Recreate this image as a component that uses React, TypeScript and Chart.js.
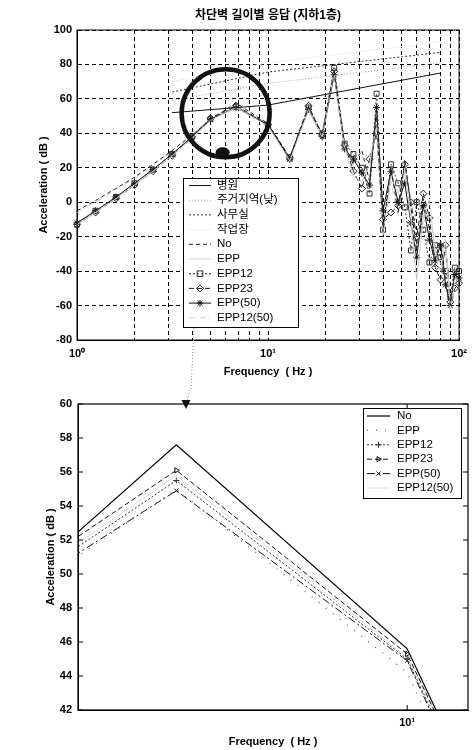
import React, { useEffect, useRef } from 'react';
import { Chart, registerables } from 'chart.js';

Chart.register(...registerables);

// ---------------- data ----------------
const TITLE = '차단벽 길이별 응답 (지하1층)';
const X_TITLE = 'Frequency  ( Hz )';
const Y_TITLE = 'Acceleration ( dB )';

const FREQ_HZ = [1, 1.25, 1.6, 2, 2.5, 3.15, 4, 5, 6.8, 10, 13, 16.3, 19.2, 22.2, 25.2, 28, 31, 34, 37, 40, 44, 48, 52, 56, 60, 65, 70, 75, 80, 85, 90, 95, 100];

const NO_DB = [-5, 1, 8, 14.5, 22, 30, 39, 48.0, 57.6, 45.6, 26, 55, 39, 76, 33, 22, 30, 12, 50, -17, 20, -6, 25, -3, -28, 2, -16, -33, -22, -45, -60, -40, -42];
const EPP_DB = [-13, -6, 2, 10, 18, 27, 37, 47.6, 55.0, 44.2, 24, 54, 38, 75, 32, 15, 12, 22, 45, -19, 15, 5, 18, -10, -45, -9, 2, -30, -40, -22, -62, -45, -45];
const EPP12_DB = [-13, -5, 3, 11, 19, 28, 38, 48.2, 55.5, 45.0, 25.5, 55, 40, 78, 34, 28, 20, 5, 63, -16, 22, 11, -3, -28, 0, -16, -35, -25, -32, -40, -55, -38, -40];
const EPP23_DB = [-13, -6, 2, 10, 18, 27, 38, 48.8, 56.1, 45.3, 26, 56, 39, 76, 33, 18, 8, 25, 40, -10, -6, -2, 22, 0, -20, 5, -9, -38, -45, -25, -58, -50, -47];
const EPP50_DB = [-12, -5, 3, 11, 19, 28, 38, 48.0, 54.9, 44.9, 25, 54, 38, 74, 31, 25, 17, 10, 55, -5, 18, 0, 11, -12, -32, -2, -22, -34, -25, -48, -60, -42, -44];
const EPP12_50_DB = [-6, 0, 7, 14, 21, 30, 39, 48.3, 55.8, 45.1, 26.5, 55, 40, 76, 33, 20, 24, 15, 48, -18, 12, -8, 20, -5, -25, -12, -5, -28, -36, -30, -57, -46, -43];

const CRIT_HZ = [3.15, 10, 80];
const HOSPITAL_DB = [52, 56.4, 75];
const RESIDENTIAL_DB = [59, 69, 81];
const OFFICE_DB = [64, 75.6, 87];
const WORKSHOP_DB = [70, 81, 93];

const TOP_X_TICKS = [1, 2, 3, 4, 5, 6, 7, 8, 9, 10, 20, 30, 40, 50, 60, 70, 80, 90, 100];
const TOP_X_LABELS = ['10⁰', '', '', '', '', '', '', '', '', '10¹', '', '', '', '', '', '', '', '', '10²'];
const TOP_Y_TICKS = [-80, -60, -40, -20, 0, 20, 40, 60, 80, 100];

const ZOOM_X_TICKS = [10];
const ZOOM_X_LABELS = ['10¹'];
const ZOOM_Y_TICKS = [42, 44, 46, 48, 50, 52, 54, 56, 58, 60];

// ---------------- styling helpers ----------------
const FONT = "'Liberation Sans', 'Noto Sans CJK KR', Arial, sans-serif";
Chart.defaults.color = '#000';
Chart.defaults.font.family = FONT;

const pts = (xs: number[], ys: number[]) => xs.map((x, i) => ({ x, y: ys[i] }));

function drawMarker(ctx: CanvasRenderingContext2D, style: string, x: number, y: number, r: number, rot = 0) {
  ctx.save();
  ctx.translate(x, y);
  ctx.rotate((rot * Math.PI) / 180);
  ctx.setLineDash([]);
  ctx.beginPath();
  const d = r * 0.707;
  switch (style) {
    case 'circle':
      ctx.arc(0, 0, r, 0, Math.PI * 2);
      break;
    case 'rect':
      ctx.rect(-r * 0.8, -r * 0.8, 1.6 * r, 1.6 * r);
      break;
    case 'rectRot':
      ctx.moveTo(0, -r); ctx.lineTo(r, 0); ctx.lineTo(0, r); ctx.lineTo(-r, 0); ctx.closePath();
      break;
    case 'triangle':
      ctx.moveTo(0, -r); ctx.lineTo(r * 0.87, r * 0.5); ctx.lineTo(-r * 0.87, r * 0.5); ctx.closePath();
      break;
    case 'cross':
      ctx.moveTo(-r, 0); ctx.lineTo(r, 0); ctx.moveTo(0, -r); ctx.lineTo(0, r);
      break;
    case 'crossRot':
      ctx.moveTo(-d, -d); ctx.lineTo(d, d); ctx.moveTo(-d, d); ctx.lineTo(d, -d);
      break;
    case 'star':
      ctx.moveTo(-r, 0); ctx.lineTo(r, 0); ctx.moveTo(0, -r); ctx.lineTo(0, r);
      ctx.moveTo(-d, -d); ctx.lineTo(d, d); ctx.moveTo(-d, d); ctx.lineTo(d, -d);
      break;
    default:
      break;
  }
  ctx.stroke();
  ctx.restore();
}

const framePlugin = {
  id: 'frame',
  afterDatasetsDraw(chart: any, _a: unknown, o: any) {
    const { ctx, chartArea: a } = chart;
    ctx.save();
    ctx.strokeStyle = '#000';
    ctx.lineWidth = o.width ?? 1;
    ctx.setLineDash([]);
    ctx.strokeRect(a.left, a.top, a.right - a.left, a.bottom - a.top);
    const t = o.tickLen ?? 0;
    if (t) {
      ctx.lineWidth = 1;
      ctx.beginPath();
      chart.scales.y.ticks.forEach((tk: any) => {
        const py = chart.scales.y.getPixelForValue(tk.value);
        ctx.moveTo(a.left, py); ctx.lineTo(a.left + t, py);
        ctx.moveTo(a.right, py); ctx.lineTo(a.right - t, py);
      });
      chart.scales.x.ticks.forEach((tk: any) => {
        const px = chart.scales.x.getPixelForValue(tk.value);
        ctx.moveTo(px, a.bottom); ctx.lineTo(px, a.bottom - t);
        ctx.moveTo(px, a.top); ctx.lineTo(px, a.top + t);
      });
      ctx.stroke();
    }
    ctx.restore();
  },
};

const calloutPlugin = {
  id: 'callout',
  afterDraw(chart: any, _a: unknown, o: any) {
    if (!o) return;
    const ctx: CanvasRenderingContext2D = chart.ctx;
    ctx.save();
    if (o.ring) {
      const cx = chart.scales.x.getPixelForValue(o.ring.hz);
      const cy = chart.scales.y.getPixelForValue(o.ring.db);
      ctx.strokeStyle = '#111';
      ctx.lineWidth = o.ring.width;
      ctx.setLineDash([]);
      ctx.beginPath();
      ctx.arc(cx, cy, o.ring.radius, 0, Math.PI * 2);
      ctx.stroke();
      ctx.fillStyle = '#111';
      ctx.beginPath();
      ctx.ellipse(cx + o.ring.dot[0], cy + o.ring.dot[1], o.ring.dot[2], o.ring.dot[3], 0, 0, Math.PI * 2);
      ctx.fill();
    }
    if (o.arrow) {
      ctx.strokeStyle = '#8a8a8a';
      ctx.lineWidth = 1;
      ctx.setLineDash([1, 2]);
      ctx.beginPath();
      ctx.moveTo(o.arrow.from[0], o.arrow.from[1]);
      ctx.lineTo(o.arrow.to[0], o.arrow.to[1]);
      ctx.stroke();
      if (o.arrow.head) {
        const [hx, hy] = o.arrow.to;
        ctx.fillStyle = '#111';
        ctx.beginPath();
        ctx.moveTo(hx - 4.5, hy - 5);
        ctx.lineTo(hx + 4.5, hy - 5);
        ctx.lineTo(hx, hy + 4);
        ctx.closePath();
        ctx.fill();
      }
    }
    ctx.restore();
  },
};

const boxLegendPlugin = {
  id: 'boxLegend',
  afterDraw(chart: any, _a: unknown, o: any) {
    if (!o || !o.box) return;
    const ctx: CanvasRenderingContext2D = chart.ctx;
    const [bx, by, bw, bh] = o.box;
    ctx.save();
    ctx.fillStyle = '#fff';
    ctx.fillRect(bx, by, bw, bh);
    ctx.strokeStyle = '#000';
    ctx.lineWidth = 1;
    ctx.setLineDash([]);
    ctx.strokeRect(bx + 0.5, by + 0.5, bw, bh);
    ctx.font = o.font;
    ctx.textBaseline = 'middle';
    ctx.textAlign = 'left';
    chart.data.datasets.forEach((ds: any, i: number) => {
      const cy = o.firstY + i * o.step;
      ctx.strokeStyle = ds.borderColor;
      ctx.lineWidth = ds.borderWidth ?? 1;
      ctx.setLineDash(ds.borderDash ?? []);
      ctx.beginPath();
      ctx.moveTo(o.sampleX[0], cy);
      ctx.lineTo(o.sampleX[1], cy);
      ctx.stroke();
      if (ds.pointRadius > 0 && ds.pointStyle) {
        ctx.strokeStyle = ds.pointBorderColor ?? ds.borderColor;
        ctx.lineWidth = 1;
        drawMarker(ctx, ds.pointStyle, (o.sampleX[0] + o.sampleX[1]) / 2, cy, ds.pointRadius, ds.pointRotation ?? 0);
      }
      ctx.fillStyle = '#000';
      ctx.fillText(ds.label, o.textX, cy);
    });
    ctx.restore();
  },
};

const tickFont = { family: FONT, size: 11, weight: 'bold' as const };
const titleFont = { family: FONT, size: 11, weight: 'bold' as const };

// ---------------- configs ----------------
function topConfig(): any {
  const series = (label: string, ys: number[], color: string, dash: number[], style: string | false, r: number) => ({
    label,
    data: pts(FREQ_HZ, ys),
    borderColor: color,
    borderWidth: 1,
    borderDash: dash,
    pointStyle: style || 'circle',
    pointRadius: style ? r : 0,
    pointBorderColor: color,
    pointBackgroundColor: 'rgba(255,255,255,0)',
    pointBorderWidth: 1,
    fill: false,
    tension: 0,
    clip: 6,
  });
  const crit = (label: string, ys: number[], color: string, dash: number[]) => ({
    label,
    data: pts(CRIT_HZ, ys),
    borderColor: color,
    borderWidth: 1,
    borderDash: dash,
    pointRadius: 0,
    fill: false,
    tension: 0,
  });
  return {
    type: 'line',
    data: {
      datasets: [
        crit('병원', HOSPITAL_DB, '#111', []),
        crit('주거지역(낮)', RESIDENTIAL_DB, '#9a9a9a', [1, 2]),
        crit('사무실', OFFICE_DB, '#333', [2, 2]),
        crit('작업장', WORKSHOP_DB, '#f0f0f0', []),
        series('No', NO_DB, '#222', [4, 3], false, 0),
        series('EPP', EPP_DB, '#cfcfcf', [], false, 0),
        series('EPP12', EPP12_DB, '#333', [2, 2], 'rect', 3.5),
        series('EPP23', EPP23_DB, '#222', [5, 3], 'rectRot', 3.5),
        series('EPP(50)', EPP50_DB, '#111', [], 'star', 3.5),
        series('EPP12(50)', EPP12_50_DB, '#d2d2d2', [6, 2, 1, 2], false, 0),
      ],
    },
    options: {
      animation: false,
      responsive: false,
      devicePixelRatio: 1,
      events: [],
      layout: { padding: { left: 0, right: 9, top: 0, bottom: 0 } },
      plugins: {
        legend: { display: false },
        tooltip: { enabled: false },
        title: {
          display: true,
          text: TITLE,
          fullSize: false,
          color: '#000',
          font: { family: FONT, size: 12, weight: 'bold' },
          padding: { top: 8, bottom: 7.6 },
        },
        frame: { width: 1 },
        callout: {
          ring: { hz: 6.0, db: 51.7, radius: 44, width: 4.5, dot: [-3, 39, 7, 5] },
          arrow: { from: [194, 328], to: [191, 390], head: false },
        },
        boxLegend: {
          box: [183, 178, 115, 149],
          firstY: 185.5,
          step: 14.7,
          sampleX: [189, 211],
          textX: 217,
          font: `11.5px ${FONT}`,
        },
      },
      scales: {
        x: {
          type: 'logarithmic',
          min: 1,
          max: 100,
          afterBuildTicks: (s: any) => {
            s.ticks = TOP_X_TICKS.map((v) => ({ value: v }));
          },
          afterFit: (s: any) => {
            s.height = 50;
          },
          grid: { color: '#000', lineWidth: 1, drawTicks: false },
          border: { display: true, color: '#000', width: 1, dash: [4, 3] },
          ticks: {
            autoSkip: false,
            maxRotation: 0,
            minRotation: 0,
            padding: 7,
            color: '#000',
            font: tickFont,
            callback: (v: any) => TOP_X_LABELS[TOP_X_TICKS.indexOf(Number(v))] ?? '',
          },
          title: { display: true, text: X_TITLE, color: '#000', font: titleFont, padding: { top: 0, bottom: 11 } },
        },
        y: {
          type: 'linear',
          min: -80,
          max: 100,
          afterBuildTicks: (s: any) => {
            s.ticks = TOP_Y_TICKS.map((v) => ({ value: v }));
          },
          afterFit: (s: any) => {
            s.width = 77;
          },
          grid: { color: '#000', lineWidth: 1, drawTicks: false },
          border: { display: true, color: '#000', width: 1, dash: [4, 3] },
          ticks: { padding: 5, color: '#000', font: tickFont, callback: (v: any) => String(v) },
          title: { display: true, text: Y_TITLE, color: '#000', font: titleFont, padding: { top: 37, bottom: 0 } },
        },
      },
    },
    plugins: [framePlugin, calloutPlugin, boxLegendPlugin],
  };
}

function zoomConfig(): any {
  const series = (label: string, ys: number[], color: string, width: number, dash: number[], style: string | false, r: number, rot = 0) => ({
    label,
    data: pts(FREQ_HZ, ys),
    borderColor: color,
    borderWidth: width,
    borderDash: dash,
    pointStyle: style || 'circle',
    pointRadius: style ? r : 0,
    pointRotation: rot,
    pointBorderColor: color,
    pointBackgroundColor: 'rgba(255,255,255,0)',
    pointBorderWidth: 1,
    fill: false,
    tension: 0,
  });
  return {
    type: 'line',
    data: {
      datasets: [
        series('No', NO_DB, '#000', 1.2, [], false, 0),
        series('EPP', EPP_DB, '#666', 1.2, [1, 8], false, 0),
        series('EPP12', EPP12_DB, '#333', 1, [2, 2], 'cross', 3),
        series('EPP23', EPP23_DB, '#111', 1, [5, 3], 'triangle', 3, 90),
        series('EPP(50)', EPP50_DB, '#111', 1, [8, 3, 2, 3], 'crossRot', 3),
        series('EPP12(50)', EPP12_50_DB, '#dedede', 1, [], false, 0),
      ],
    },
    options: {
      animation: false,
      responsive: false,
      devicePixelRatio: 1,
      events: [],
      layout: { padding: { left: 0, right: 6, top: 14, bottom: 0 } },
      plugins: {
        legend: { display: false },
        tooltip: { enabled: false },
        title: { display: false },
        frame: { width: 1.2, tickLen: 5 },
        callout: { arrow: { from: [190, 0], to: [186, 15], head: true } },
        boxLegend: {
          box: [363, 18, 98, 90],
          firstY: 26,
          step: 14.4,
          sampleX: [367, 390],
          textX: 397,
          font: `11.5px ${FONT}`,
        },
      },
      scales: {
        x: {
          type: 'logarithmic',
          min: 5.77,
          max: 11.07,
          afterBuildTicks: (s: any) => {
            s.ticks = ZOOM_X_TICKS.map((v) => ({ value: v }));
          },
          afterFit: (s: any) => {
            s.height = 40;
          },
          grid: { display: false, drawTicks: false },
          border: { display: true, color: '#000', width: 1 },
          ticks: {
            autoSkip: false,
            maxRotation: 0,
            minRotation: 0,
            padding: 6,
            color: '#000',
            font: tickFont,
            callback: (v: any) => ZOOM_X_LABELS[ZOOM_X_TICKS.indexOf(Number(v))] ?? '',
          },
          title: { display: true, text: X_TITLE, color: '#000', font: titleFont, padding: { top: 0, bottom: 1.4 } },
        },
        y: {
          type: 'linear',
          min: 42,
          max: 60,
          afterBuildTicks: (s: any) => {
            s.ticks = ZOOM_Y_TICKS.map((v) => ({ value: v }));
          },
          afterFit: (s: any) => {
            s.width = 78;
          },
          grid: { display: false, drawTicks: false },
          border: { display: true, color: '#000', width: 1 },
          ticks: { padding: 6, color: '#000', font: tickFont, callback: (v: any) => String(v) },
          title: { display: true, text: Y_TITLE, color: '#000', font: titleFont, padding: { top: 44, bottom: 0 } },
        },
      },
    },
    plugins: [framePlugin, calloutPlugin, boxLegendPlugin],
  };
}

function ChartCanvas({ make, top, height }: { make: () => any; top: number; height: number }) {
  const ref = useRef<HTMLCanvasElement>(null);
  useEffect(() => {
    if (!ref.current) return;
    const chart = new Chart(ref.current, make());
    return () => chart.destroy();
  }, [make]);
  return (
    <canvas
      ref={ref}
      width={474}
      height={height}
      style={{ position: 'absolute', left: 0, top, width: 474, height }}
    />
  );
}

export default function App() {
  return (
    <div style={{ position: 'absolute', left: 0, top: 0, width: 474, height: 750, background: '#fff', overflow: 'hidden' }}>
      <ChartCanvas make={topConfig} top={0} height={390} />
      <ChartCanvas make={zoomConfig} top={390} height={360} />
    </div>
  );
}
